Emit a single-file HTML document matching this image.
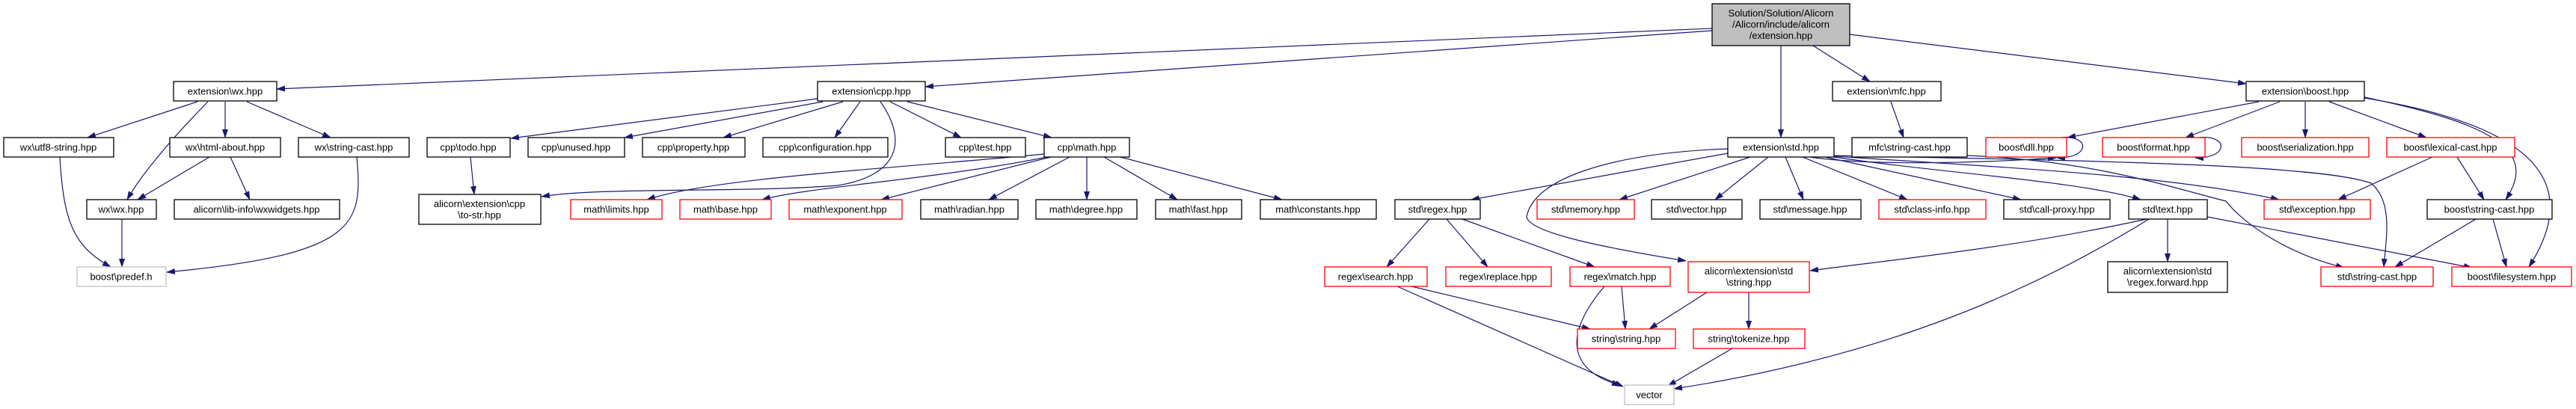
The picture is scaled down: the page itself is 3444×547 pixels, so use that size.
<!DOCTYPE html>
<html><head><meta charset="utf-8"><style>
html,body{margin:0;padding:0;background:#fff;}
svg{display:block;}
text{font-family:"Liberation Sans",sans-serif;font-size:13px;fill:#000;text-anchor:middle;}
.n rect{fill:#fff;stroke:#000;stroke-width:1.3;}
.r rect{fill:#fff;stroke:#f00;stroke-width:1.3;}
.g rect{fill:#fff;stroke:#bfbfbf;stroke-width:1.3;}
.e path{fill:none;stroke:#191970;stroke-width:1.2;marker-end:url(#a);}
</style></head><body>
<svg width="3444" height="547" viewBox="0 0 3444 547" xmlns="http://www.w3.org/2000/svg">
<defs><marker id="a" markerWidth="12" markerHeight="8" refX="11" refY="4" orient="auto" markerUnits="userSpaceOnUse"><path d="M0,0 L12,4 L0,8 z" fill="#191970"/></marker></defs>
<g class="e">
<path d="M2289,38 L370,119"/>
<path d="M2289,41 L1237,116"/>
<path d="M2381,61 L2381,184"/>
<path d="M2424,61 L2500,109"/>
<path d="M2473,46 L3003,112"/>
<path d="M264,136 L117,184"/>
<path d="M278,136 C220,195 185,240 170,267"/>
<path d="M301,136 L301,184"/>
<path d="M330,136 L442,184"/>
<path d="M280,210 L184,267"/>
<path d="M308,210 L334,267"/>
<path d="M80,210 C85,300 100,330 148,357"/>
<path d="M163,293 L163,357"/>
<path d="M477,210 C485,300 480,340 223,364"/>
<path d="M1093,132 L683,185"/>
<path d="M1100,136 L835,184"/>
<path d="M1127,136 L967,184"/>
<path d="M1150,136 L1116,184"/>
<path d="M1177,136 C1215,190 1200,235 1120,248 C1000,258 800,250 724,263"/>
<path d="M1190,136 L1285,184"/>
<path d="M1213,136 L1406,184"/>
<path d="M629,210 L634,260"/>
<path d="M1396,206 C1200,225 950,238 865,267"/>
<path d="M1400,210 C1250,240 1080,250 1019,267"/>
<path d="M1405,210 L1178,267"/>
<path d="M1430,210 L1322,267"/>
<path d="M1453,210 L1453,267"/>
<path d="M1476,210 L1574,267"/>
<path d="M1498,210 L1714,267"/>
<path d="M2310,205 L1967,267"/>
<path d="M2310,199 C2150,205 2050,240 2041,290 C2045,312 2150,332 2254,349"/>
<path d="M2340,210 L2165,267"/>
<path d="M2364,210 L2293,267"/>
<path d="M2387,210 L2411,267"/>
<path d="M2410,210 L2550,267"/>
<path d="M2440,210 L2702,267"/>
<path d="M2452,210 C2600,232 2780,242 2862,267"/>
<path d="M2452,209 C2700,225 2900,235 3047,267"/>
<path d="M2452,208 C2800,215 3100,220 3170,245 C3200,270 3190,320 3187,357"/>
<path d="M2420,210 C2500,222 2650,218 2749,211"/>
<path d="M2630,208 C2800,215 2900,250 2976,269 C3000,300 3060,340 3134,358"/>
<path d="M2528,136 L2545,184"/>
<path d="M2755,184 C2795,180 2795,212 2750,211"/>
<path d="M2940,184 C2980,180 2980,212 2935,211"/>
<path d="M3020,136 L2764,184"/>
<path d="M3048,136 L2922,184"/>
<path d="M3082,136 L3082,184"/>
<path d="M3114,136 L3244,184"/>
<path d="M3161,130 C3330,165 3395,200 3350,267"/>
<path d="M3161,131 C3400,170 3450,250 3381,357"/>
<path d="M3252,210 L3126,267"/>
<path d="M3285,210 L3321,267"/>
<path d="M3310,293 L3202,357"/>
<path d="M3333,293 L3351,357"/>
<path d="M2870,293 C2700,330 2550,345 2420,362"/>
<path d="M2873,293 C2700,400 2500,480 2238,520"/>
<path d="M2898,293 L2898,350"/>
<path d="M2951,290 L3305,358"/>
<path d="M1911,293 L1854,357"/>
<path d="M1934,293 L1989,357"/>
<path d="M1955,293 L2132,357"/>
<path d="M1887,383 L2126,440"/>
<path d="M1868,383 L2170,517"/>
<path d="M2168,383 L2173,440"/>
<path d="M2145,383 C2080,460 2110,500 2166,515"/>
<path d="M2282,391 L2205,440"/>
<path d="M2338,391 L2338,440"/>
<path d="M2316,466 L2230,516"/>
</g>
<g class="n"><rect x="2289" y="5" width="184" height="56" style="fill:#bfbfbf"/><text x="2381" y="22">Solution/Solution/Alicorn</text><text x="2381" y="37">/Alicorn/include/alicorn</text><text x="2381" y="52">/extension.hpp</text></g>
<g class="n"><rect x="232" y="109" width="138" height="26"/><text x="301" y="126.5">extension\wx.hpp</text></g>
<g class="n"><rect x="1093" y="109" width="144" height="26"/><text x="1165" y="126.5">extension\cpp.hpp</text></g>
<g class="n"><rect x="2450" y="109" width="145" height="26"/><text x="2522" y="126.5">extension\mfc.hpp</text></g>
<g class="n"><rect x="3003" y="109" width="158" height="26"/><text x="3082" y="126.5">extension\boost.hpp</text></g>
<g class="n"><rect x="5" y="184" width="147" height="26"/><text x="78" y="201.5">wx\utf8-string.hpp</text></g>
<g class="n"><rect x="227" y="184" width="148" height="26"/><text x="301" y="201.5">wx\html-about.hpp</text></g>
<g class="n"><rect x="399" y="184" width="148" height="26"/><text x="473" y="201.5">wx\string-cast.hpp</text></g>
<g class="n"><rect x="571" y="184" width="111" height="26"/><text x="626" y="201.5">cpp\todo.hpp</text></g>
<g class="n"><rect x="706" y="184" width="129" height="26"/><text x="770" y="201.5">cpp\unused.hpp</text></g>
<g class="n"><rect x="859" y="184" width="137" height="26"/><text x="927" y="201.5">cpp\property.hpp</text></g>
<g class="n"><rect x="1020" y="184" width="167" height="26"/><text x="1103" y="201.5">cpp\configuration.hpp</text></g>
<g class="n"><rect x="1264" y="184" width="107" height="26"/><text x="1317" y="201.5">cpp\test.hpp</text></g>
<g class="n"><rect x="1396" y="184" width="114" height="26"/><text x="1453" y="201.5">cpp\math.hpp</text></g>
<g class="n"><rect x="2310" y="184" width="142" height="26"/><text x="2381" y="201.5">extension\std.hpp</text></g>
<g class="n"><rect x="2476" y="184" width="154" height="26"/><text x="2553" y="201.5">mfc\string-cast.hpp</text></g>
<g class="r"><rect x="2655" y="184" width="108" height="26"/><text x="2709" y="201.5">boost\dll.hpp</text></g>
<g class="r"><rect x="2811" y="184" width="137" height="26"/><text x="2879" y="201.5">boost\format.hpp</text></g>
<g class="r"><rect x="2997" y="184" width="170" height="26"/><text x="3082" y="201.5">boost\serialization.hpp</text></g>
<g class="r"><rect x="3191" y="184" width="171" height="26"/><text x="3276" y="201.5">boost\lexical-cast.hpp</text></g>
<g class="n"><rect x="116" y="267" width="93" height="26"/><text x="162" y="284.5">wx\wx.hpp</text></g>
<g class="n"><rect x="233" y="267" width="221" height="26"/><text x="343" y="284.5">alicorn\lib-info\wxwidgets.hpp</text></g>
<g class="n"><rect x="560" y="260" width="163" height="40"/><text x="641" y="277">alicorn\extension\cpp</text><text x="641" y="292">\to-str.hpp</text></g>
<g class="r"><rect x="763" y="267" width="122" height="26"/><text x="824" y="284.5">math\limits.hpp</text></g>
<g class="r"><rect x="909" y="267" width="122" height="26"/><text x="970" y="284.5">math\base.hpp</text></g>
<g class="r"><rect x="1055" y="267" width="151" height="26"/><text x="1130" y="284.5">math\exponent.hpp</text></g>
<g class="n"><rect x="1231" y="267" width="130" height="26"/><text x="1296" y="284.5">math\radian.hpp</text></g>
<g class="n"><rect x="1385" y="267" width="135" height="26"/><text x="1452" y="284.5">math\degree.hpp</text></g>
<g class="n"><rect x="1545" y="267" width="115" height="26"/><text x="1602" y="284.5">math\fast.hpp</text></g>
<g class="n"><rect x="1685" y="267" width="155" height="26"/><text x="1762" y="284.5">math\constants.hpp</text></g>
<g class="n"><rect x="1865" y="267" width="114" height="26"/><text x="1922" y="284.5">std\regex.hpp</text></g>
<g class="r"><rect x="2055" y="267" width="130" height="26"/><text x="2120" y="284.5">std\memory.hpp</text></g>
<g class="n"><rect x="2208" y="267" width="121" height="26"/><text x="2268" y="284.5">std\vector.hpp</text></g>
<g class="n"><rect x="2353" y="267" width="135" height="26"/><text x="2420" y="284.5">std\message.hpp</text></g>
<g class="r"><rect x="2512" y="267" width="143" height="26"/><text x="2583" y="284.5">std\class-info.hpp</text></g>
<g class="n"><rect x="2679" y="267" width="142" height="26"/><text x="2750" y="284.5">std\call-proxy.hpp</text></g>
<g class="n"><rect x="2846" y="267" width="105" height="26"/><text x="2898" y="284.5">std\text.hpp</text></g>
<g class="r"><rect x="3027" y="267" width="142" height="26"/><text x="3098" y="284.5">std\exception.hpp</text></g>
<g class="n"><rect x="3245" y="267" width="167" height="26"/><text x="3328" y="284.5">boost\string-cast.hpp</text></g>
<g class="g"><rect x="103" y="357" width="119" height="26"/><text x="162" y="374.5">boost\predef.h</text></g>
<g class="r"><rect x="1771" y="357" width="137" height="26"/><text x="1839" y="374.5">regex\search.hpp</text></g>
<g class="r"><rect x="1933" y="357" width="141" height="26"/><text x="2003" y="374.5">regex\replace.hpp</text></g>
<g class="r"><rect x="2099" y="357" width="134" height="26"/><text x="2166" y="374.5">regex\match.hpp</text></g>
<g class="r"><rect x="2257" y="350" width="162" height="41"/><text x="2338" y="367">alicorn\extension\std</text><text x="2338" y="382">\string.hpp</text></g>
<g class="n"><rect x="2818" y="350" width="160" height="41"/><text x="2898" y="367">alicorn\extension\std</text><text x="2898" y="382">\regex.forward.hpp</text></g>
<g class="r"><rect x="3103" y="357" width="150" height="26"/><text x="3178" y="374.5">std\string-cast.hpp</text></g>
<g class="r"><rect x="3278" y="357" width="160" height="26"/><text x="3358" y="374.5">boost\filesystem.hpp</text></g>
<g class="r"><rect x="2109" y="440" width="131" height="26"/><text x="2174" y="457.5">string\string.hpp</text></g>
<g class="r"><rect x="2264" y="440" width="149" height="26"/><text x="2338" y="457.5">string\tokenize.hpp</text></g>
<g class="g"><rect x="2172" y="515" width="66" height="26"/><text x="2205" y="532.5">vector</text></g>
</svg>
</body></html>
